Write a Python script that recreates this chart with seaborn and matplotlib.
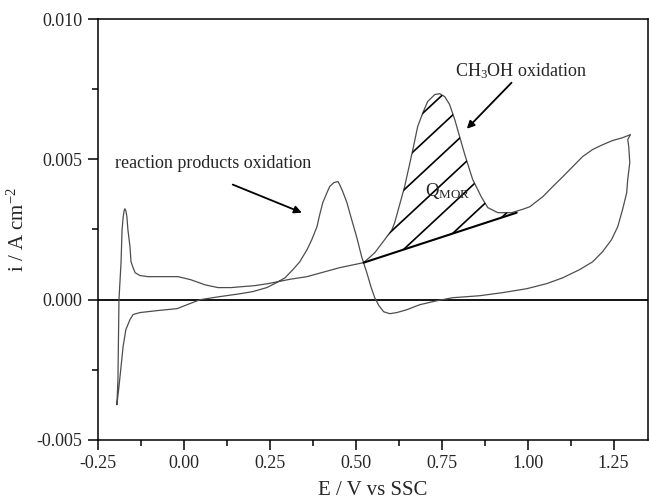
import matplotlib
matplotlib.use("Agg")
import numpy as np
import pandas as pd
import seaborn as sns
import matplotlib.pyplot as plt
from matplotlib.ticker import MultipleLocator, FormatStrFormatter

# ---- data (E in V vs SSC, i in A cm^-2) ----
E_forward = [-0.195, -0.192, -0.189, -0.183, -0.180, -0.177, -0.174, -0.172, -0.169,
             -0.166, -0.163, -0.157, -0.154, -0.148, -0.142, -0.128, -0.105, -0.055,
             -0.017, 0.020, 0.061, 0.099, 0.137, 0.166, 0.206, 0.244, 0.273, 0.310,
             0.358, 0.453, 0.523, 0.555, 0.584, 0.605, 0.613, 0.642, 0.666, 0.680,
             0.695, 0.709, 0.730, 0.744, 0.759, 0.773, 0.788, 0.802, 0.817, 0.840,
             0.866, 0.884, 0.913, 0.953, 0.983, 1.006, 1.044, 1.073, 1.102, 1.131,
             1.160, 1.189, 1.218, 1.247, 1.276, 1.299]
i_forward = [-0.00374, -0.00285, 0.00000, 0.00132, 0.00249, 0.00292, 0.00317, 0.00324,
             0.00317, 0.00296, 0.00249, 0.00189, 0.00135, 0.00114, 0.00096, 0.00086,
             0.00082, 0.00082, 0.00082, 0.00071, 0.00053, 0.00043, 0.00043, 0.00046,
             0.00050, 0.00057, 0.00064, 0.00073, 0.00082, 0.00114, 0.00132, 0.00167,
             0.00214, 0.00249, 0.00274, 0.00403, 0.00535, 0.00617, 0.00666, 0.00706,
             0.00731, 0.00734, 0.00723, 0.00695, 0.00641, 0.00581, 0.00517, 0.00428,
             0.00364, 0.00328, 0.00310, 0.00310, 0.00321, 0.00331, 0.00367, 0.00403,
             0.00438, 0.00474, 0.00510, 0.00535, 0.00552, 0.00567, 0.00577, 0.00588]
E_reverse = [1.291, 1.294, 1.297, 1.291, 1.288, 1.276, 1.262, 1.244, 1.218, 1.189,
             1.151, 1.102, 1.055, 0.997, 0.927, 0.860, 0.782, 0.735, 0.686, 0.648,
             0.619, 0.599, 0.581, 0.567, 0.555, 0.544, 0.532, 0.517, 0.503, 0.488,
             0.474, 0.462, 0.453, 0.448, 0.436, 0.424, 0.416, 0.404, 0.395, 0.387,
             0.372, 0.358, 0.337, 0.317, 0.294, 0.270, 0.241, 0.201, 0.163, 0.105,
             0.047, 0.009, -0.020, -0.078, -0.128, -0.148, -0.157, -0.169, -0.177,
             -0.183, -0.189, -0.195]
i_reverse = [0.00570, 0.00545, 0.00488, 0.00428, 0.00381, 0.00321, 0.00260, 0.00214,
             0.00171, 0.00135, 0.00107, 0.00078, 0.00057, 0.00039, 0.00025, 0.00014,
             0.00007, -0.00004, -0.00018, -0.00036, -0.00046, -0.00050, -0.00043,
             -0.00021, 0.00007, 0.00046, 0.00096, 0.00153, 0.00221, 0.00285, 0.00346,
             0.00385, 0.00410, 0.00421, 0.00417, 0.00403, 0.00381, 0.00346, 0.00303,
             0.00260, 0.00214, 0.00178, 0.00135, 0.00107, 0.00078, 0.00061, 0.00043,
             0.00029, 0.00021, 0.00011, 0.00000, -0.00018, -0.00032, -0.00039,
             -0.00046, -0.00053, -0.00071, -0.00107, -0.00167, -0.00239, -0.00310,
             -0.00374]
baseline_E = [0.523, 0.968]
baseline_i = [0.00132, 0.00310]

x_ticks = [-0.25, 0.00, 0.25, 0.50, 0.75, 1.00, 1.25]
y_ticks = [-0.005, 0.000, 0.005, 0.010]

# ---- style ----
sns.set_style("ticks")
plt.rcParams["font.family"] = ["Liberation Serif", "DejaVu Serif"]
plt.rcParams["mathtext.fontset"] = "custom"
plt.rcParams["mathtext.rm"] = "Liberation Serif"
plt.rcParams["mathtext.it"] = "Liberation Serif:italic"
plt.rcParams["mathtext.bf"] = "Liberation Serif:bold"
plt.rcParams["axes.unicode_minus"] = False

fig = plt.figure(figsize=(6.49, 5.0), dpi=100)
ax = fig.add_axes([98 / 649, 60 / 500, 550 / 649, 421 / 500])

df = pd.DataFrame({"E": E_forward + E_reverse, "i": i_forward + i_reverse})
sns.lineplot(data=df, x="E", y="i", sort=False, estimator=None,
             color="#4d4d4d", lw=0.9, ax=ax)

ax.axhline(0, color="black", lw=1.3, zorder=1)

# charge region (Q_MOR) between forward curve and straight baseline
Ef = np.array(E_forward)
If = np.array(i_forward)
mask = (Ef > baseline_E[0]) & (Ef < baseline_E[1])
xr = np.concatenate([[baseline_E[0]], Ef[mask], [baseline_E[1]]])
yr = np.concatenate([[baseline_i[0]], If[mask], [baseline_i[1]]])
yb = np.interp(xr, baseline_E, baseline_i)
poly = ax.fill_between(xr, yb, yr, facecolor="none", edgecolor="none")
clip = poly.get_paths()[0]
slope = 1.215
for k in range(7):
    b = 0.0587 - 0.0703 * k
    ln, = ax.plot([0, 1], [b, b + slope], transform=ax.transAxes, color="black", lw=1.2)
    ln.set_clip_path(clip, ax.transData)

ax.plot(baseline_E, baseline_i, color="black", lw=1.5)

# annotations
arrow = dict(arrowstyle="-|>", color="black", lw=1.3, mutation_scale=11,
             shrinkA=0, shrinkB=0)
ax.annotate("", xy=(0.343, 0.00310), xytext=(0.142, 0.00410), arrowprops=arrow)
ax.annotate("", xy=(0.823, 0.00609), xytext=(0.953, 0.00773), arrowprops=arrow)
ax.text(-0.201, 0.00470, "reaction products oxidation", fontsize=13,
        ha="left", va="baseline")
ax.text(0.980, 0.00795, "CH$_3$OH oxidation", fontsize=13, ha="center", va="baseline")
ax.text(0.701, 0.00371, "Q$_\\mathrm{MOR}$", fontsize=13.5, ha="left", va="baseline")

ax.set_xlim(-0.25, 1.35)
ax.set_ylim(-0.005, 0.010)
ax.set_xticks(x_ticks)
ax.set_yticks(y_ticks)
ax.xaxis.set_minor_locator(MultipleLocator(0.125))
ax.yaxis.set_minor_locator(MultipleLocator(0.0025))
ax.xaxis.set_major_formatter(FormatStrFormatter("%.2f"))
ax.yaxis.set_major_formatter(FormatStrFormatter("%.3f"))
ax.tick_params(which="major", direction="out", length=7, width=1.1,
               labelsize=13, pad=4, top=False, right=False, color="black")
ax.tick_params(which="minor", direction="out", length=4, width=1.1,
               top=False, right=False, color="black")
for s in ax.spines.values():
    s.set_linewidth(1.1)
    s.set_color("black")

ax.set_xlabel("E / V vs SSC", fontsize=15, labelpad=6)
ax.set_ylabel("i / A cm$^{-2}$", fontsize=15, labelpad=6)

fig.savefig("out.png", dpi=100, facecolor="white")
